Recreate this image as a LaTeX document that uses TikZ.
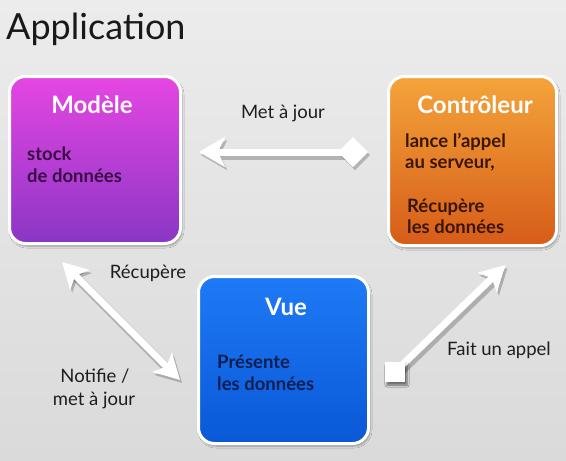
\documentclass[tikz,border=0pt]{standalone}
\usepackage{fontspec}
\setmainfont{Lato}
\usetikzlibrary{arrows.meta,shadows.blur,calc}
\definecolor{bgtop}{HTML}{ECECEC}
\definecolor{bgbot}{HTML}{DADADA}
\definecolor{modtop}{HTML}{E646E2}
\definecolor{modbot}{HTML}{8A36C6}
\definecolor{cttop}{HTML}{F4A43A}
\definecolor{ctbot}{HTML}{D65C18}
\definecolor{vutop}{HTML}{1E7AF6}
\definecolor{vubot}{HTML}{0A58D6}
\definecolor{modtxt}{HTML}{3A0A44}
\definecolor{cttxt}{HTML}{3A1602}
\definecolor{vutxt}{HTML}{0A1E50}
\definecolor{lbl}{HTML}{1E1E1E}
\tikzset{
  box/.style={draw=white, line width=3pt, rounded corners=16pt, inner sep=0pt,
    blur shadow={shadow xshift=1.5pt, shadow yshift=-2.5pt, shadow blur steps=6, shadow opacity=35}},
  boxtitle/.style={anchor=base, text=white, font=\bfseries\fontsize{24}{28}\selectfont, inner sep=0pt},
  boxbody/.style={anchor=base west, font=\bfseries\fontsize{18.5}{22}\selectfont, inner sep=0pt},
  lab/.style={anchor=base, text=lbl, font=\fontsize{18.5}{22}\selectfont, inner sep=0pt},
  bigarrow/.style={draw=white, line width=7pt,
    preaction={draw=black, opacity=0.22, line width=9pt, transform canvas={shift={(2pt,-3pt)}}}},
  sqr/.style={fill=white, minimum size=20pt, inner sep=0pt,
    blur shadow={shadow xshift=2pt, shadow yshift=-3pt, shadow blur steps=4, shadow opacity=30}},
}
\begin{document}
\begin{tikzpicture}[x=1pt,y=-1pt]
\shade[top color=bgtop, bottom color=bgbot] (0,0) rectangle (566,461);
\useasboundingbox (0,0) rectangle (566,461);

\node[anchor=base west, inner sep=0pt, text=black!90, font=\fontsize{36}{40}\selectfont] (app) at (6,39) {Application};

% boxes
\node[box, top color=modtop, bottom color=modbot, minimum width=171pt, minimum height=167pt] (mod) at (95,160) {};
\node[box, top color=cttop, bottom color=ctbot, minimum width=168pt, minimum height=169pt] (ctrl) at (472.5,161) {};
\node[box, top color=vutop, bottom color=vubot, minimum width=170pt, minimum height=167pt] (vue) at (283.5,360) {};

% box texts
\node[boxtitle] (modT) at (92,113) {Modèle};
\node[boxbody, text=modtxt] (modB1) at (27,160) {stock};
\node[boxbody, text=modtxt] (modB2) at (27,182) {de données};

\node[boxtitle] (ctrlT) at (475,113) {Contrôleur};
\node[boxbody, text=cttxt] (ctB1) at (405,147) {lance l'appel};
\node[boxbody, text=cttxt] (ctB2) at (405,168) {au serveur,};
\node[boxbody, text=cttxt] (ctB3) at (407,212) {Récupère};
\node[boxbody, text=cttxt] (ctB4) at (407,233) {les données};

\node[boxtitle] (vueT) at (286,315) {Vue};
\node[boxbody, text=vutxt] (vuB1) at (217,368) {Présente};
\node[boxbody, text=vutxt] (vuB2) at (217,390) {les données};

% labels
\node[lab] (lMaj) at (283,118) {Met à jour};
\node[lab] (lRec) at (148,278) {Récupère};
\node[lab] (lNot1) at (95,382) {Notifie /};
\node[lab] (lNot2) at (94,405) {met à jour};
\node[lab] (lFait) at (499,355) {Fait un appel};

% connectors
\draw[bigarrow, {Diamond[length=30pt,width=30pt]}-{Stealth[length=26pt,width=30pt,inset=7pt]}]
  ([shift={(-19,-9)}]ctrl.west) -- ([shift={(17,-8)}]mod.east);
\draw[bigarrow, {Stealth[length=25pt,width=27pt,inset=6pt]}-{Stealth[length=25pt,width=27pt,inset=6pt]}]
  ([shift={(-33,17)}]mod.south) -- ([shift={(-17,20)}]vue.west);
\node[sqr] (sq) at (395,372) {};
\draw[bigarrow, -{Stealth[length=25pt,width=27pt,inset=6pt]}]
  (sq.center) -- ([shift={(33,18)}]ctrl.south);
\node[sqr] at (sq) {};
\end{tikzpicture}
\end{document}
